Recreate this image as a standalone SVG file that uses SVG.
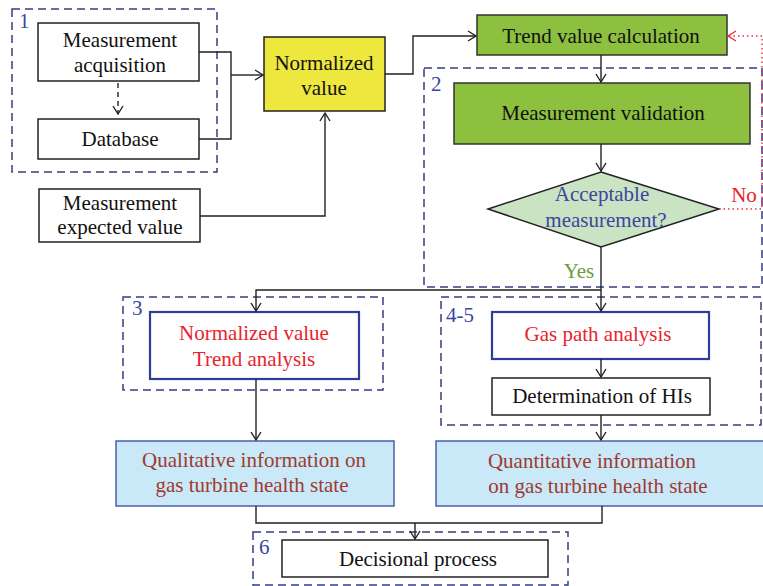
<svg xmlns="http://www.w3.org/2000/svg" width="763" height="586" viewBox="0 0 763 586">
<defs>
<marker id="arr" markerWidth="12" markerHeight="12" refX="9" refY="6" orient="auto" markerUnits="userSpaceOnUse">
<path d="M1,1 L9,6 L1,11" fill="none" stroke="#222" stroke-width="1.4"/>
</marker>
<marker id="arrR" markerWidth="12" markerHeight="12" refX="9" refY="6" orient="auto" markerUnits="userSpaceOnUse">
<path d="M1,1 L9,6 L1,11" fill="none" stroke="#E8303A" stroke-width="1.4"/>
</marker>
<style>
text{font-family:"Liberation Serif","Times New Roman",serif;font-size:21px;text-anchor:middle;fill:#111}
.box{fill:#fff;stroke:#222;stroke-width:1.5}
.grp{fill:none;stroke:#363C88;stroke-width:1.5;stroke-dasharray:8,5}
.num{fill:#3B45A0;text-anchor:start}
.green{fill:#8DC03F;stroke:#333;stroke-width:1.5}
.bbox{fill:#fff;stroke:#2E3D9A;stroke-width:2.2}
.lb{fill:#C9E8F8;stroke:#4F5DA8;stroke-width:1.5}
.red{fill:#E8242E}
.brown{fill:#9E3B2E}
.c{fill:none;stroke:#222;stroke-width:1.4}
</style>
</defs>

<g id="group1">
<rect class="grp" x="12" y="9" width="205" height="163"/>
<text class="num" x="19" y="28">1</text>
</g>
<g id="group2">
<rect class="grp" x="424" y="68" width="338" height="219"/>
<text class="num" x="431" y="91">2</text>
</g>
<g id="group3">
<rect class="grp" x="123" y="297" width="260" height="93"/>
<text class="num" x="132" y="315">3</text>
</g>
<g id="group45">
<rect class="grp" x="441" y="297" width="320" height="128"/>
<text class="num" x="446" y="322">4-5</text>
</g>
<g id="group6">
<rect class="grp" x="253" y="532" width="315" height="53"/>
<text class="num" x="259" y="554">6</text>
</g>

<g id="acquisition">
<rect class="box" x="38" y="23" width="161" height="58"/>
<text x="120" y="47">Measurement</text>
<text x="120" y="72">acquisition</text>
</g>
<g id="database">
<rect class="box" x="38" y="119" width="161" height="40"/>
<text x="120" y="146">Database</text>
</g>
<g id="expected">
<rect class="box" x="39" y="189" width="161" height="53"/>
<text x="120" y="210">Measurement</text>
<text x="120" y="234">expected value</text>
</g>
<g id="normalized">
<rect x="264" y="37" width="121" height="74" fill="#EDE73E" stroke="#222" stroke-width="1.5"/>
<text x="324" y="70">Normalized</text>
<text x="324" y="95">value</text>
</g>
<g id="trend">
<rect class="green" x="477" y="15" width="250" height="40"/>
<text x="601" y="43">Trend value calculation</text>
</g>
<g id="validation">
<rect class="green" x="454" y="83" width="296" height="61"/>
<text x="603" y="120">Measurement validation</text>
</g>
<g id="decision">
<polygon points="601,172 719,209 601,247 488,209" fill="#C9E3C3" stroke="#222" stroke-width="1.5"/>
<text x="602" y="201" style="fill:#3B45A0">Acceptable</text>
<text x="606" y="227" style="fill:#3B45A0">measurement?</text>
</g>
<g id="trendanalysis">
<rect class="bbox" x="150" y="312" width="209" height="67"/>
<text class="red" x="254" y="340">Normalized value</text>
<text class="red" x="254" y="366">Trend analysis</text>
</g>
<g id="gaspath">
<rect class="bbox" x="492" y="312" width="217" height="47"/>
<text class="red" x="598" y="341">Gas path analysis</text>
</g>
<g id="his">
<rect class="box" x="492" y="378" width="218" height="37"/>
<text x="602" y="403">Determination of HIs</text>
</g>
<g id="qualitative">
<rect class="lb" x="116" y="441" width="278" height="65"/>
<text class="brown" x="254" y="467">Qualitative information on</text>
<text class="brown" x="252" y="492">gas turbine health state</text>
</g>
<g id="quantitative">
<rect class="lb" x="436" y="441" width="330" height="65"/>
<text class="brown" x="592" y="468">Quantitative information</text>
<text class="brown" x="598" y="493">on gas turbine health state</text>
</g>
<g id="decisional">
<rect class="box" x="282" y="540" width="266" height="37"/>
<text x="418" y="566">Decisional process</text>
</g>

<g id="connectors">
<line x1="118" y1="83" x2="118" y2="114" stroke="#222" stroke-width="1.4" stroke-dasharray="5,4" marker-end="url(#arr)"/>
<polyline class="c" points="199,52 231,52 231,139 199,139"/>
<line class="c" x1="231" y1="75" x2="263" y2="75" marker-end="url(#arr)"/>
<polyline class="c" points="200,216 325,216 325,113" marker-end="url(#arr)"/>
<polyline class="c" points="385,74 413,74 413,36 476,36" marker-end="url(#arr)"/>
<line class="c" x1="601" y1="55" x2="601" y2="82" marker-end="url(#arr)"/>
<line class="c" x1="601" y1="144" x2="601" y2="171" marker-end="url(#arr)"/>
<polyline points="719,209 762,209 762,36 728,36" fill="none" stroke="#E8303A" stroke-width="1.4" stroke-dasharray="1.5,3" marker-end="url(#arrR)"/>
<text x="744" y="202" style="fill:#E8242E">No</text>
<text x="579" y="278" style="fill:#6E9A3C">Yes</text>
<line class="c" x1="601" y1="247" x2="601" y2="311" marker-end="url(#arr)"/>
<polyline class="c" points="601,290 256,290 256,311" marker-end="url(#arr)"/>
<line class="c" x1="601" y1="359" x2="601" y2="377" marker-end="url(#arr)"/>
<line class="c" x1="601" y1="415" x2="601" y2="440" marker-end="url(#arr)"/>
<line class="c" x1="256" y1="379" x2="256" y2="440" marker-end="url(#arr)"/>
<polyline class="c" points="256,506 256,523 602,523 602,506"/>
<line class="c" x1="415" y1="523" x2="415" y2="539" marker-end="url(#arr)"/>
</g>
</svg>
